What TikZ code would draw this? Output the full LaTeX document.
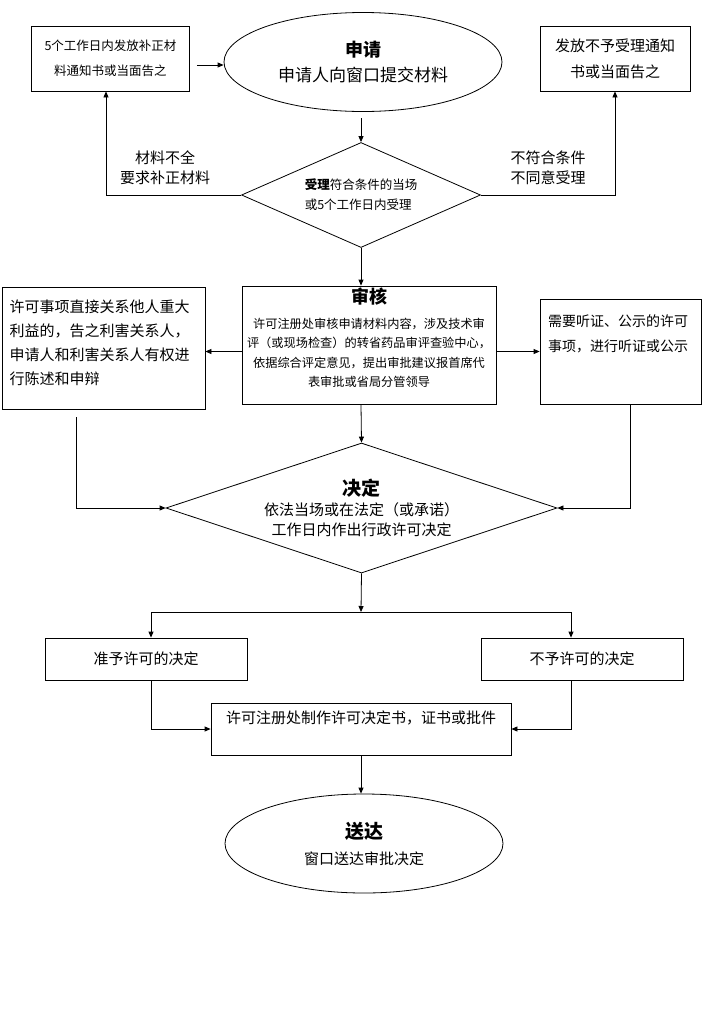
\documentclass[tikz,border=0pt]{standalone}
\usepackage{fontspec}
\setmainfont{Noto Sans CJK SC}
\usetikzlibrary{positioning,shapes.geometric,arrows.meta}

\begin{document}
\begin{tikzpicture}[x=1pt,y=-1pt,
    line width=0.8pt,
    box/.style={rectangle,draw,inner sep=0pt},
    oval/.style={ellipse,draw,inner sep=0pt,minimum width=278pt,minimum height=99pt,align=center},
    choice/.style={diamond,draw,inner sep=0pt},
    arr/.style={-{Triangle[length=6pt,width=5pt]}},
  ]
  \useasboundingbox (0,0) rectangle (705,1029);
  \node[oval,font=\fontsize{17}{25}\selectfont] (apply) at (363,62) {{\fontsize{18}{25}\selectfont\bfseries 申请}\\申请人向窗口提交材料};
  \node[box,minimum width=158pt,minimum height=65pt,align=center,font=\fontsize{12.5}{25}\selectfont] (supp) at (110.5,58.5) {5个工作日内发放补正材\\料通知书或当面告之};
  \node[box,minimum width=150pt,minimum height=65pt,align=center,font=\fontsize{15}{26}\selectfont] (reject) at (615,58.5) {发放不予受理通知\\书或当面告之};
  \node[choice,minimum width=239pt,minimum height=105pt,shape aspect=2.3,align=left,font=\fontsize{12.5}{20}\selectfont] (accept) at (361,195) {{\bfseries 受理}符合条件的当场\\或5个工作日内受理};
  \node[align=center,font=\fontsize{15}{20}\selectfont] (lack) at (165,168) {材料不全\\要求补正材料};
  \node[align=center,font=\fontsize{15}{20}\selectfont] (unfit) at (548,168) {不符合条件\\不同意受理};
  \node[box,minimum width=254pt,minimum height=118pt,align=center,font=\fontsize{12.2}{19.5}\selectfont] (review) at (369,345) {{\fontsize{18}{24}\selectfont\bfseries 审核}\\[5pt]许可注册处审核申请材料内容，涉及技术审\\评（或现场检查）的转省药品审评查验中心，\\依据综合评定意见，提出审批建议报首席代\\表审批或省局分管领导\\[-10pt]\strut};
  \node[box,minimum width=203pt,minimum height=122pt,align=left,text width=188pt,font=\fontsize{15}{24}\selectfont] (impact) at (103.5,348) {许可事项直接关系他人重大\\利益的，告之利害关系人，\\申请人和利害关系人有权进\\行陈述和申辩\\[-19pt]\strut};
  \node[box,minimum width=161pt,minimum height=105pt,align=left,text width=145pt,font=\fontsize{14}{25}\selectfont] (hearing) at (620.5,351.5) {需要听证、公示的许可\\事项，进行听证或公示\\[4pt]\strut};
  \node[choice,minimum width=391pt,minimum height=130pt,shape aspect=3,align=center,font=\fontsize{15}{20}\selectfont] (decide) at (361.5,508) {{\fontsize{19}{20}\selectfont\bfseries 决定}\\依法当场或在法定（或承诺）\\工作日内作出行政许可决定};
  \coordinate (split) at (361,612);
  \node[box,minimum width=202pt,minimum height=42pt,font=\fontsize{15}{18}\selectfont] (grant) at (146,659) {准予许可的决定};
  \node[box,minimum width=202pt,minimum height=42pt,font=\fontsize{15}{18}\selectfont] (deny) at (582,659) {不予许可的决定};
  \node[box,minimum width=300pt,minimum height=52pt,align=center,font=\fontsize{15}{18}\selectfont] (make) at (361,729) {许可注册处制作许可决定书，证书或批件\\\strut};
  \node[oval,font=\fontsize{15}{26}\selectfont] (deliver) at (364,843.5) {{\fontsize{19}{26}\selectfont\bfseries 送达}\\窗口送达审批决定};
  \coordinate (applygap) at (361,118);
  \draw[arr] ([shift={(7pt,-6.5pt)}]supp.east) -- ([yshift=-3pt]apply.west);
  \draw[arr] (applygap) -- (accept.north);
  \draw[arr] (accept.west) -| ([xshift=-4.5pt]supp.south);
  \draw[arr] (accept.east) -| (reject.south);
  \draw[arr] (accept.south) -- (accept.south |- review.north);
  \draw[arr] (review.west |- hearing.west) -- (impact.east |- hearing.west);
  \draw[arr] (review.east |- hearing.west) -- (hearing.west);
  \draw[arr] (accept.south |- review.south) -- (decide.north);
  \draw[arr] ([shift={(-27.5pt,-8pt)}]impact.south) |- (decide.west);
  \draw[arr] ([xshift=9.5pt]hearing.south) |- (decide.east);
  \draw[arr] (decide.south) -- (split);
  \draw[arr] (split) -| ([xshift=5pt]grant.north);
  \draw[arr] (split) -| ([xshift=-11pt]deny.north);
  \draw[arr] ([xshift=5pt]grant.south) |- (make.west);
  \draw[arr] ([xshift=-11pt]deny.south) |- (make.east);
  \draw[arr] (make.south) -- (make.south |- deliver.north);
\end{tikzpicture}
\end{document}
